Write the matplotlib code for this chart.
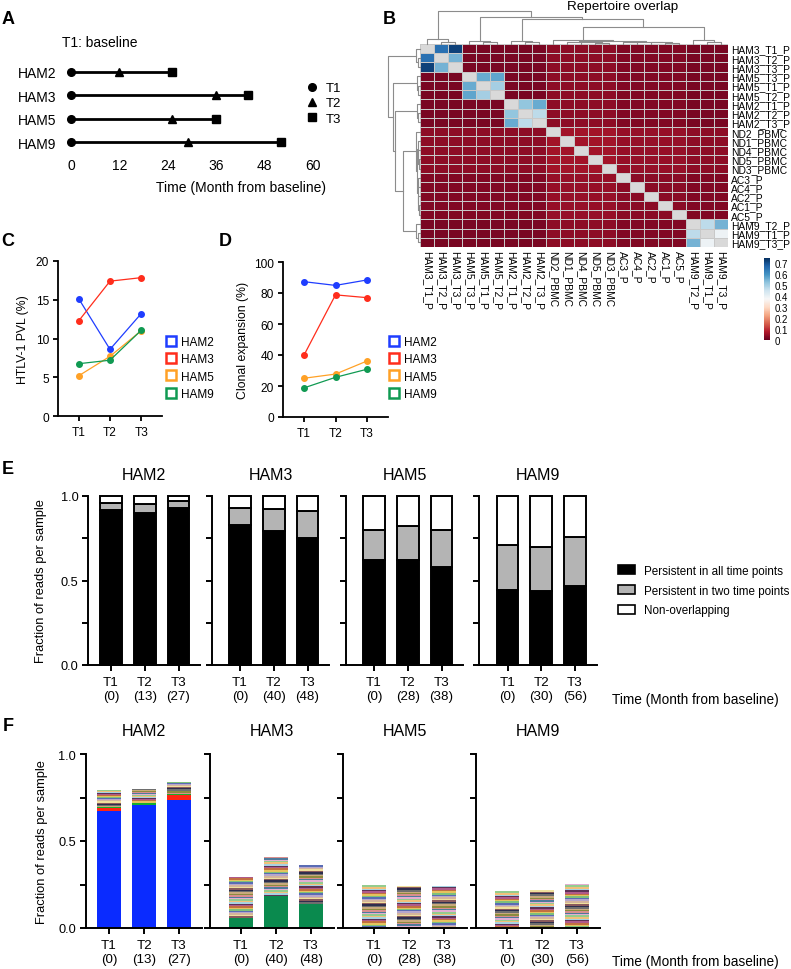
import numpy as np
import matplotlib
matplotlib.use("Agg")
import matplotlib.pyplot as plt
from matplotlib.lines import Line2D
from matplotlib.patches import Patch
from matplotlib.colors import Normalize

plt.rcParams['font.family'] = ['Liberation Sans', 'DejaVu Sans']

# ---------------- data ----------------
patients = ['HAM2', 'HAM3', 'HAM5', 'HAM9']
timepoints = ['T1', 'T2', 'T3']
patient_colors = ['#1f3dff', '#ff2d1c', '#ffa126', '#109a52']

# A: sampling time (months from baseline) as drawn in the timeline
timeline_months = [[0, 12, 25], [0, 36, 44], [0, 25, 36], [0, 29, 52]]

# C: HTLV-1 proviral load (%)
pvl = [[15.1, 8.6, 13.2],
       [12.3, 17.4, 17.85],
       [5.2, 7.7, 11.0],
       [6.75, 7.2, 11.05]]

# D: clonal expansion (%)
clonal_exp = [[87.3, 84.9, 88.4],
              [40.0, 78.8, 77.0],
              [25.0, 27.7, 36.1],
              [18.8, 25.6, 30.8]]

# B: repertoire overlap heatmap (clustered order)
samples = ['HAM3_T1_P', 'HAM3_T2_P', 'HAM3_T3_P', 'HAM5_T3_P', 'HAM5_T1_P',
           'HAM5_T2_P', 'HAM2_T1_P', 'HAM2_T2_P', 'HAM2_T3_P', 'ND2_PBMC',
           'ND1_PBMC', 'ND4_PBMC', 'ND5_PBMC', 'ND3_PBMC', 'AC3_P', 'AC4_P',
           'AC2_P', 'AC1_P', 'AC5_P', 'HAM9_T2_P', 'HAM9_T1_P', 'HAM9_T3_P']
# low background overlap level of each sample
background = [0.02, 0.02, 0.02, 0.02, 0.02, 0.02, 0.02, 0.02, 0.02, 0.06,
              0.06, 0.06, 0.06, 0.06, 0.035, 0.035, 0.035, 0.035, 0.035,
              0.02, 0.02, 0.02]
pair_overlap = {
    ('HAM3_T1_P', 'HAM3_T2_P'): 0.65, ('HAM3_T1_P', 'HAM3_T3_P'): 0.72,
    ('HAM3_T2_P', 'HAM3_T3_P'): 0.55,
    ('HAM5_T3_P', 'HAM5_T1_P'): 0.56, ('HAM5_T3_P', 'HAM5_T2_P'): 0.57,
    ('HAM5_T1_P', 'HAM5_T2_P'): 0.50,
    ('HAM2_T1_P', 'HAM2_T2_P'): 0.52, ('HAM2_T1_P', 'HAM2_T3_P'): 0.56,
    ('HAM2_T2_P', 'HAM2_T3_P'): 0.47,
    ('HAM9_T2_P', 'HAM9_T1_P'): 0.47, ('HAM9_T2_P', 'HAM9_T3_P'): 0.55,
    ('HAM9_T1_P', 'HAM9_T3_P'): 0.39,
}
# dendrogram (same for rows and columns): (left, right, height), leaves = index
ham3_tree = (0, (1, 2, 0.05), 0.14)
ham5_tree = (3, (4, 5, 0.06), 0.10)
ham2_tree = (6, (7, 8, 0.05), 0.09)
ctrl_tree = (9, ((10, (11, (12, 13, 0.04), 0.05), 0.06),
                 ((14, 15, 0.05), (16, (17, 18, 0.04), 0.05), 0.07), 0.08), 0.11)
ham9_tree = (19, (20, 21, 0.06), 0.12)
cluster_tree = (ham3_tree, (ham5_tree, (ham2_tree, (ctrl_tree, ham9_tree, 0.52), 0.77), 0.83), 1.0)

# E: fraction of reads per sample
persist_all = [[0.92, 0.90, 0.93], [0.83, 0.79, 0.75], [0.62, 0.62, 0.58], [0.445, 0.435, 0.465]]
persist_two = [[0.04, 0.05, 0.04], [0.10, 0.135, 0.16], [0.18, 0.20, 0.22], [0.265, 0.265, 0.295]]
non_overlap = [[0.04, 0.05, 0.03], [0.07, 0.075, 0.09], [0.20, 0.18, 0.20], [0.29, 0.30, 0.24]]
sample_months = [[0, 13, 27], [0, 40, 48], [0, 28, 38], [0, 30, 56]]

# F: per-clone fractions, stacked from the bottom (largest clones first)
clone_fractions = {
    'HAM2': [
        [0.675, 0.012, 0.006, 0.008, 0.006, 0.007, 0.005, 0.009, 0.006, 0.007, 0.005, 0.006,
         0.008, 0.005, 0.007, 0.006, 0.005, 0.006, 0.004],
        [0.705, 0.004, 0.012, 0.007, 0.006, 0.005, 0.008, 0.006, 0.005, 0.007, 0.006, 0.005,
         0.006, 0.007, 0.005, 0.006],
        [0.735, 0.029, 0.008, 0.006, 0.007, 0.005, 0.006, 0.008, 0.005, 0.006, 0.007, 0.005,
         0.006, 0.007],
    ],
    'HAM3': [
        [0.059, 0.009, 0.007, 0.010, 0.006, 0.008, 0.011, 0.007, 0.009, 0.006, 0.008, 0.010,
         0.007, 0.009, 0.008, 0.006, 0.010, 0.008, 0.007, 0.009, 0.006, 0.008, 0.010, 0.007,
         0.008, 0.009, 0.007, 0.008, 0.009, 0.009],
        [0.182, 0.010, 0.008, 0.009, 0.007, 0.011, 0.008, 0.006, 0.009, 0.010, 0.007, 0.008,
         0.009, 0.006, 0.010, 0.008, 0.007, 0.009, 0.011, 0.008, 0.007, 0.009, 0.008, 0.010,
         0.007, 0.008, 0.009, 0.005],
        [0.140, 0.008, 0.010, 0.007, 0.009, 0.006, 0.011, 0.008, 0.007, 0.009, 0.010, 0.006,
         0.008, 0.009, 0.007, 0.010, 0.008, 0.006, 0.009, 0.008, 0.010, 0.007, 0.009, 0.008,
         0.007, 0.009, 0.006, 0.010],
    ],
    'HAM5': [
        [0.006, 0.005, 0.009, 0.008, 0.010, 0.007, 0.008, 0.009, 0.006, 0.010, 0.008, 0.007,
         0.009, 0.008, 0.011, 0.007, 0.008, 0.009, 0.006, 0.010, 0.008, 0.009, 0.007, 0.008,
         0.010, 0.009, 0.007, 0.008, 0.009, 0.009, 0.004],
        [0.005, 0.007, 0.009, 0.008, 0.006, 0.010, 0.008, 0.009, 0.007, 0.008, 0.010, 0.009,
         0.007, 0.008, 0.006, 0.009, 0.010, 0.008, 0.007, 0.009, 0.008, 0.010, 0.007, 0.009,
         0.008, 0.007, 0.009, 0.010, 0.009, 0.004],
        [0.004, 0.006, 0.008, 0.009, 0.007, 0.010, 0.008, 0.006, 0.009, 0.008, 0.007, 0.010,
         0.009, 0.008, 0.007, 0.009, 0.011, 0.008, 0.006, 0.009, 0.008, 0.010, 0.007, 0.008,
         0.009, 0.010, 0.008, 0.009, 0.008, 0.005],
    ],
    'HAM9': [
        [0.005, 0.004, 0.008, 0.007, 0.009, 0.008, 0.006, 0.009, 0.007, 0.008, 0.010, 0.007,
         0.008, 0.009, 0.006, 0.008, 0.007, 0.009, 0.008, 0.010, 0.007, 0.008, 0.009, 0.007,
         0.008, 0.011, 0.010],
        [0.005, 0.006, 0.009, 0.007, 0.008, 0.010, 0.007, 0.009, 0.008, 0.006, 0.009, 0.010,
         0.008, 0.007, 0.009, 0.008, 0.010, 0.007, 0.008, 0.009, 0.007, 0.008, 0.010, 0.009,
         0.008, 0.007, 0.008, 0.003],
        [0.006, 0.005, 0.009, 0.008, 0.010, 0.007, 0.009, 0.011, 0.008, 0.006, 0.010, 0.009,
         0.008, 0.004, 0.010, 0.009, 0.007, 0.008, 0.011, 0.009, 0.008, 0.010, 0.007, 0.009,
         0.008, 0.010, 0.009, 0.008, 0.012, 0.008],
    ],
}
lead_clone_colors = {'HAM2': ['#0a2bff', '#ff2412', '#14b02c'], 'HAM3': ['#0a8a4e'],
                     'HAM5': [], 'HAM9': []}
minor_palette = ['#c9a97c', '#8a5a5c', '#b6a6cc', '#e6c25e', '#5e3256', '#94cc8e',
                 '#d88e8e', '#6e6e6e', '#efe09c', '#5a6cb4', '#c27040', '#a6d2e2',
                 '#e2aed2', '#8c8c3e', '#2e2e4e', '#d4b49c', '#7ec07a', '#b05a8a',
                 '#f2c07a', '#4e7a9c']

# ---------------- figure ----------------
W, H = 791, 970
fig = plt.figure(figsize=(W / 100, H / 100), dpi=100)


def px_axes(left, top, width, height):
    return fig.add_axes([left / W, 1 - (top + height) / H, width / W, height / H])


def fx(x):
    return x / W


def fy(y):
    return 1 - y / H


def panel_letter(x, y, s):
    fig.text(fx(x), fy(y), s, fontsize=13, fontweight='bold', ha='center', va='center')


# ---- A: timeline ----
axA = px_axes(63, 61, 258, 94)
markers = ['o', '^', 's']
for i, months in enumerate(timeline_months):
    axA.plot(months, [i] * 3, color='black', lw=2.0, zorder=1)
    for m, mk in zip(months, markers):
        axA.plot(m, i, marker=mk, color='black', ms=5.5, zorder=2)
axA.set_xlim(-2, 62)
axA.set_ylim(3.5, -0.5)
axA.set_xticks([0, 12, 24, 36, 48, 60])
axA.set_yticks(range(len(patients)))
axA.set_yticklabels(patients)
axA.tick_params(length=0, labelsize=10)
axA.tick_params(axis='x', pad=3)
axA.tick_params(axis='y', pad=5)
for sp in axA.spines.values():
    sp.set_visible(False)
fig.text(fx(241), fy(188), 'Time (Month from baseline)', fontsize=10, ha='center', va='center')
fig.text(fx(62), fy(43), 'T1: baseline', fontsize=10, ha='left', va='center')
a_handles = [Line2D([], [], marker=mk, color='black', ls='none', ms=5.5) for mk in markers]
fig.legend(a_handles, timepoints, loc='upper left', bbox_to_anchor=(fx(307), fy(83)),
           frameon=False, fontsize=9.5, handlelength=0.8, handletextpad=0.6,
           labelspacing=0.22, borderpad=0, borderaxespad=0)
panel_letter(8, 19, 'A')

# ---- B: heatmap ----
n = len(samples)
overlap = np.full((n, n), np.nan)
for i in range(n):
    for j in range(n):
        if i != j:
            overlap[i, j] = (background[i] + background[j]) / 2
for (a, b), v in pair_overlap.items():
    i, j = samples.index(a), samples.index(b)
    overlap[i, j] = v
    overlap[j, i] = v

cmap = plt.get_cmap('RdBu').copy()
cmap.set_bad('#d9d9d9')
norm = Normalize(0, 0.745)
axB = px_axes(420, 45, 308, 203)
mesh = axB.pcolormesh(np.ma.masked_invalid(overlap), cmap=cmap, norm=norm,
                      edgecolors='#c8c8c8', linewidth=0.5)
axB.set_xlim(0, n)
axB.set_ylim(n, 0)
axB.set_xticks(np.arange(n) + 0.5)
axB.set_xticklabels(samples, rotation=270, fontsize=7.4)
axB.set_yticks(np.arange(n) + 0.5)
axB.set_yticklabels(samples, fontsize=7.4)
axB.yaxis.tick_right()
axB.tick_params(length=0, pad=2)
for sp in axB.spines.values():
    sp.set_visible(False)


def draw_tree(ax, node, orient):
    if isinstance(node, int):
        return node + 0.5, 0.0
    left, right, h = node
    xl, hl = draw_tree(ax, left, orient)
    xr, hr = draw_tree(ax, right, orient)
    pos = [xl, xl, xr, xr]
    hts = [hl, h, h, hr]
    if orient == 'top':
        ax.plot(pos, hts, color='#8c8c8c', lw=0.8, clip_on=False)
    else:
        ax.plot(hts, pos, color='#8c8c8c', lw=0.8, clip_on=False)
    return (xl + xr) / 2, h


axTop = px_axes(420, 12, 308, 33)
draw_tree(axTop, cluster_tree, 'top')
axTop.set_xlim(0, n)
axTop.set_ylim(0, 1.0)
axTop.axis('off')

axLeft = px_axes(388, 45, 32, 203)
draw_tree(axLeft, cluster_tree, 'left')
axLeft.set_ylim(n, 0)
axLeft.set_xlim(1.0, 0)
axLeft.axis('off')

fig.text(fx(623), fy(7), 'Repertoire overlap', fontsize=9.7, ha='center', va='center')

cax = px_axes(764, 259, 6, 82)
cb = fig.colorbar(mesh, cax=cax)
cb.outline.set_visible(False)
cb.set_ticks([0, 0.1, 0.2, 0.3, 0.4, 0.5, 0.6, 0.7])
cb.set_ticklabels(['0', '0.1', '0.2', '0.3', '0.4', '0.5', '0.6', '0.7'])
cax.tick_params(length=0, labelsize=7, pad=3)
panel_letter(389, 19, 'B')


# ---- C, D: line plots ----
def line_panel(rect, values, yticks, ylabel, ylabel_x, legend_x):
    ax = px_axes(*rect)
    for vals, col in zip(values, patient_colors):
        ax.plot([1, 2, 3], vals, color=col, lw=0.9, marker='o', ms=4, clip_on=False)
    ax.set_xlim(0.33, 3.67)
    ax.set_ylim(yticks[0], yticks[-1])
    ax.set_yticks(yticks)
    ax.set_xticks([1, 2, 3])
    ax.set_xticklabels(timepoints)
    ax.spines['top'].set_visible(False)
    ax.spines['right'].set_visible(False)
    for s in ['left', 'bottom']:
        ax.spines[s].set_linewidth(1.3)
    ax.tick_params(width=1.3, length=3.5, labelsize=8.6, pad=3)
    ax.tick_params(axis='x', pad=4)
    fig.text(fx(ylabel_x), fy(rect[1] + rect[3] / 2), ylabel, fontsize=8.8,
             rotation=90, ha='center', va='center')
    handles = [Line2D([], [], marker='s', ls='none', ms=6.5, mfc='white', mec=c, mew=1.8)
               for c in patient_colors]
    fig.legend(handles, patients, loc='upper left', bbox_to_anchor=(fx(legend_x), fy(337)),
               frameon=False, fontsize=8.5, handlelength=0.8, handletextpad=0.5,
               labelspacing=0.45, borderpad=0, borderaxespad=0)
    return ax


line_panel((58, 262, 104, 155), pvl, [0, 5, 10, 15, 20], 'HTLV-1 PVL (%)', 23, 166)
line_panel((283, 263, 105, 155), clonal_exp, [0, 20, 40, 60, 80, 100],
           'Clonal expansion (%)', 243, 389)
panel_letter(8, 242, 'C')
panel_letter(225, 242, 'D')


# ---- E, F: stacked bars ----
def bar_axes(left, top, height, xl, unit_px):
    ax = px_axes(left, top, (2.65 - xl) * unit_px, height)
    ax.set_xlim(xl, 2.65)
    ax.set_ylim(0, 1)
    ax.spines['top'].set_visible(False)
    ax.spines['right'].set_visible(False)
    for s in ['left', 'bottom']:
        ax.spines[s].set_linewidth(1.4)
    ax.set_yticks([0, 0.5, 1.0])
    ax.set_yticks([0.25, 0.75], minor=True)
    ax.tick_params(which='major', width=1.4, length=4, labelsize=9.2, pad=3)
    ax.tick_params(which='minor', width=1.4, length=4)
    ax.tick_params(axis='x', pad=4, labelsize=9.6)
    return ax


E_first_bar = [111, 240, 374, 507.5]
F_first_bar = [109, 241, 374, 507]
for k, p in enumerate(patients):
    xl = -0.68 if k == 0 else -0.83
    ax = bar_axes(E_first_bar[k] + xl * 33.75, 497, 169, xl, 33.75)
    x = np.arange(3)
    b1 = persist_all[k]
    b2 = persist_two[k]
    b3 = non_overlap[k]
    kw = dict(width=0.64, edgecolor='black', linewidth=1.4, clip_on=False)
    ax.bar(x, b1, color='black', **kw)
    ax.bar(x, b2, bottom=b1, color='#b4b4b4', **kw)
    ax.bar(x, b3, bottom=np.add(b1, b2), color='white', **kw)
    ax.set_xticks(x)
    ax.set_xticklabels([f'{t}\n({m})' for t, m in zip(timepoints, sample_months[k])])
    ax.set_yticklabels(['0.0', '0.5', '1.0'])
    if k > 0:
        ax.tick_params(axis='y', labelleft=False)
    ax.set_title(p, fontsize=11.5, pad=12)

    xlf = -0.66 if k == 0 else -0.886
    axf = bar_axes(F_first_bar[k] + xlf * 35, 755, 174, xlf, 35)
    leads = lead_clone_colors[p]
    for j, fracs in enumerate(clone_fractions[p]):
        bottom = 0.0
        m = 0
        for s, v in enumerate(fracs):
            if s < len(leads):
                col = leads[s]
            else:
                col = minor_palette[(m * 7 + j * 3 + k) % len(minor_palette)]
                m += 1
            axf.bar(j, v, bottom=bottom, width=0.69, color=col, linewidth=0)
            bottom += v
    axf.set_xticks(x)
    axf.set_xticklabels([f'{t}\n({m})' for t, m in zip(timepoints, sample_months[k])])
    axf.set_yticklabels(['0.0', '0.5', '1.0'])
    if k > 0:
        axf.tick_params(axis='y', labelleft=False)
    axf.set_title(p, fontsize=11.5, pad=14)

fig.text(fx(41), fy(581), 'Fraction of reads per sample', fontsize=9.3, rotation=90,
         ha='center', va='center')
fig.text(fx(42), fy(842), 'Fraction of reads per sample', fontsize=9.3, rotation=90,
         ha='center', va='center')
fig.text(fx(612), fy(700), 'Time (Month from baseline)', fontsize=9.8, ha='left', va='center')
fig.text(fx(612), fy(962), 'Time (Month from baseline)', fontsize=9.8, ha='left', va='center')

e_handles = [Patch(facecolor=c, edgecolor='black', linewidth=1.2)
             for c in ['black', '#b4b4b4', 'white']]
fig.legend(e_handles, ['Persistent in all time points', 'Persistent in two time points',
                       'Non-overlapping'],
           loc='upper left', bbox_to_anchor=(fx(618), fy(566)), frameon=False,
           fontsize=8.4, handlelength=1.45, handleheight=0.8, handletextpad=0.8,
           labelspacing=0.65, borderpad=0, borderaxespad=0)
panel_letter(8, 470, 'E')
panel_letter(8, 727, 'F')

fig.savefig('out.png', dpi=100)
